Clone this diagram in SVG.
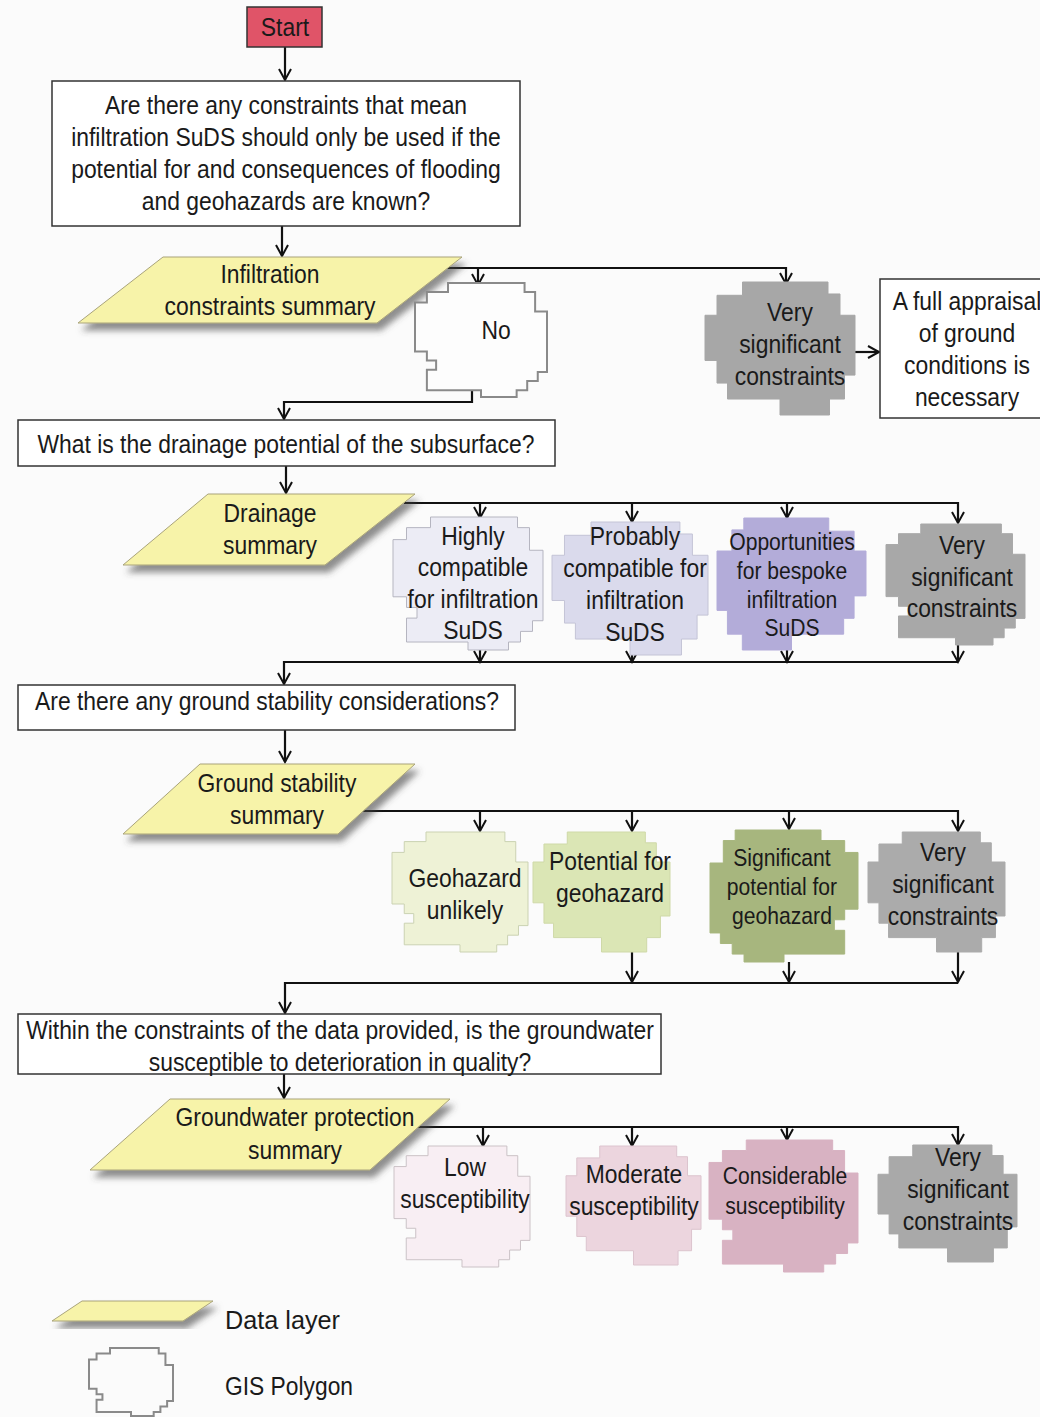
<svg xmlns="http://www.w3.org/2000/svg" xmlns:xlink="http://www.w3.org/1999/xlink" width="1040" height="1417" viewBox="0 0 1040 1417">
<style>
.t{font-family:"Liberation Sans Narrow","Arial Narrow","Liberation Sans",sans-serif;font-size:26px;fill:#1a1a1a;text-anchor:middle}
.s{font-size:24px}
.lg{font-family:"Liberation Sans",Arial,sans-serif;font-size:25px;fill:#1a1a1a;text-anchor:start}
.box{fill:#fff;stroke:#333;stroke-width:1.5}
.para{fill:#f7f3a9;stroke:#a9a37a;stroke-width:1;filter:url(#sh)}
.ln{fill:none;stroke:#111;stroke-width:2.2}
.a{marker-end:url(#arr)}
.pl{stroke-width:2}
</style>
<defs>
<filter id="sh" x="-20%" y="-20%" width="140%" height="160%">
<feDropShadow dx="4" dy="7" stdDeviation="3" flood-color="#444" flood-opacity="0.6"/>
</filter>
<marker id="arr" markerUnits="userSpaceOnUse" markerWidth="16" markerHeight="16" refX="12" refY="7" orient="auto" viewBox="0 0 16 16">
<path d="M1,1 L12,7 L1,13" fill="none" stroke="#111" stroke-width="2"/>
</marker>
<path id="shA" vector-effect="non-scaling-stroke" d="M25,0 H83 V8 H91 V25 H100 V78 H93 V86 H85 V94 H77 V100 H50 V94 H9 V76 H16 V68 H9 V60 H0 V17 H9 V8 H25 Z"/>
<path id="shB" vector-effect="non-scaling-stroke" d="M25,0 H82 V9 H90 V25 H100 V70 H93 V88 H83 V100 H50 V88 H15 V76 H8 V59 H0 V25 H8 V10 H25 Z"/>
</defs>
<rect x="0" y="0" width="1040" height="1417" fill="#fbfbfb"/>

<g id="connectors">
<path class="ln a" d="M285,47 V80"/>
<path class="ln a" d="M282,226 V256"/>
<path class="ln a" d="M445,268 H786 V284"/>
<path class="ln a" d="M478,268 V285"/>
<path class="ln a" d="M855,352 H879"/>
<path class="ln a" d="M472,390 V402 H284 V419"/>
<path class="ln a" d="M286,466 V493"/>
<path class="ln a" d="M404,503 H958 V523"/>
<path class="ln a" d="M480,503 V518"/>
<path class="ln a" d="M632,503 V522"/>
<path class="ln a" d="M787,503 V518"/>
<path class="ln a" d="M480,650 V662"/>
<path class="ln a" d="M632,655 V662"/>
<path class="ln a" d="M787,650 V662"/>
<path class="ln a" d="M958,645 V662"/>
<path class="ln a" d="M958,662 H284 V684"/>
<path class="ln a" d="M285,730 V762"/>
<path class="ln a" d="M360,811 H958 V831"/>
<path class="ln a" d="M480,811 V831"/>
<path class="ln a" d="M632,811 V831"/>
<path class="ln a" d="M789,811 V829"/>
<path class="ln a" d="M632,952 V982"/>
<path class="ln a" d="M789,962 V982"/>
<path class="ln a" d="M958,952 V982"/>
<path class="ln a" d="M958,983 H285 V1013"/>
<path class="ln a" d="M284,1074 V1098"/>
<path class="ln a" d="M410,1127 H958 V1145"/>
<path class="ln a" d="M483,1127 V1146"/>
<path class="ln a" d="M632,1127 V1146"/>
<path class="ln a" d="M787,1127 V1140"/>
</g>

<g id="start">
<rect x="247" y="7" width="75" height="40" fill="#e05468" stroke="#333" stroke-width="1.5"/>
<g transform="matrix(0.88 0 0 1 34.2 0)"><text class="t" x="285" y="36">Start</text></g>
</g>

<g id="q1">
<rect class="box" x="52" y="81" width="468" height="145"/>
<g transform="matrix(0.88 0 0 1 34.32 0)">
<text class="t" x="286" y="114">Are there any constraints that mean</text>
<text class="t" x="286" y="146">infiltration SuDS should only be used if the</text>
<text class="t" x="286" y="178">potential for and consequences of flooding</text>
<text class="t" x="286" y="210">and geohazards are known?</text>
</g>
</g>

<g id="d1">
<polygon class="para" points="163,257 462,257 377,323 78,323"/>
<g transform="matrix(0.88 0 0 1 32.4 0)">
<text class="t" x="270" y="283">Infiltration</text>
<text class="t" x="270" y="315">constraints summary</text>
</g>
</g>

<g id="no">
<use xlink:href="#shA" class="pl" transform="translate(415,283) scale(1.32,1.14)" fill="#fdfdfd" stroke="#8a8a8a"/>
<g transform="matrix(0.88 0 0 1 59.52 0)"><text class="t" x="496" y="339">No</text></g>
</g>

<g id="vsc1">
<use xlink:href="#shB" transform="translate(705,282) scale(1.5,1.33)" fill="#a7a7a7" stroke="#a7a7a7"/>
<g transform="matrix(0.88 0 0 1 94.8 0)">
<text class="t" x="790" y="321">Very</text>
<text class="t" x="790" y="353">significant</text>
<text class="t" x="790" y="385">constraints</text>
</g>
</g>

<g id="appraisal">
<rect class="box" x="880" y="279" width="175" height="139"/>
<g transform="matrix(0.88 0 0 1 116.04 0)">
<text class="t" x="967" y="310">A full appraisal</text>
<text class="t" x="967" y="342">of ground</text>
<text class="t" x="967" y="374">conditions is</text>
<text class="t" x="967" y="406">necessary</text>
</g>
</g>

<g id="q2">
<rect class="box" x="18" y="420" width="537" height="46"/>
<g transform="matrix(0.88 0 0 1 34.32 0)"><text class="t" x="286" y="453">What is the drainage potential of the subsurface?</text></g>
</g>

<g id="d2">
<polygon class="para" points="208,494 415,494 325,565 123,565"/>
<g transform="matrix(0.88 0 0 1 32.4 0)">
<text class="t" x="270" y="522">Drainage</text>
<text class="t" x="270" y="554">summary</text>
</g>
</g>

<g id="highly">
<use xlink:href="#shA" transform="translate(393,517) scale(1.5,1.33)" fill="#ececf5" stroke="#b5b5c0"/>
<g transform="matrix(0.88 0 0 1 56.76 0)">
<text class="t" x="473" y="545">Highly</text>
<text class="t" x="473" y="576">compatible</text>
<text class="t" x="473" y="608">for infiltration</text>
<text class="t" x="473" y="639">SuDS</text>
</g>
</g>

<g id="probably">
<use xlink:href="#shB" transform="translate(552,522) scale(1.56,1.33)" fill="#dadaec" stroke="#c4c4d6"/>
<g transform="matrix(0.88 0 0 1 76.2 0)">
<text class="t" x="635" y="545">Probably</text>
<text class="t" x="635" y="577">compatible for</text>
<text class="t" x="635" y="609">infiltration</text>
<text class="t" x="635" y="641">SuDS</text>
</g>
</g>

<g id="opportunities">
<use xlink:href="#shB" transform="translate(866,518) scale(-1.49,1.32)" fill="#b3acd9" stroke="#b3acd9"/>
<g transform="matrix(0.88 0 0 1 95.04 0)">
<text class="t s" x="792" y="550">Opportunities</text>
<text class="t s" x="792" y="579">for bespoke</text>
<text class="t s" x="792" y="608">infiltration</text>
<text class="t s" x="792" y="636">SuDS</text>
</g>
</g>

<g id="vsc2">
<use xlink:href="#shA" transform="translate(886,524) scale(1.39,1.21)" fill="#a8a8a8" stroke="#a8a8a8"/>
<g transform="matrix(0.88 0 0 1 115.44 0)">
<text class="t" x="962" y="554">Very</text>
<text class="t" x="962" y="586">significant</text>
<text class="t" x="962" y="617">constraints</text>
</g>
</g>

<g id="q3">
<rect class="box" x="18" y="685" width="497" height="45"/>
<g transform="matrix(0.88 0 0 1 32.04 0)"><text class="t" x="267" y="710">Are there any ground stability considerations?</text></g>
</g>

<g id="d3">
<polygon class="para" points="200,764 415,764 338,834 123,834"/>
<g transform="matrix(0.88 0 0 1 33.24 0)">
<text class="t" x="277" y="792">Ground stability</text>
<text class="t" x="277" y="824">summary</text>
</g>
</g>

<g id="geo-unlikely">
<use xlink:href="#shA" transform="translate(392,832) scale(1.36,1.2)" fill="#eef2d6" stroke="#cbd2b2"/>
<g transform="matrix(0.88 0 0 1 55.8 0)">
<text class="t" x="465" y="887">Geohazard</text>
<text class="t" x="465" y="919">unlikely</text>
</g>
</g>

<g id="geo-potential">
<use xlink:href="#shB" transform="translate(533,832) scale(1.37,1.2)" fill="#dbe6b5" stroke="#cfd9a8"/>
<g transform="matrix(0.88 0 0 1 73.2 0)">
<text class="t" x="610" y="870">Potential for</text>
<text class="t" x="610" y="902">geohazard</text>
</g>
</g>

<g id="geo-significant">
<use xlink:href="#shA" transform="translate(858,830) scale(-1.48,1.32)" fill="#a7b67e" stroke="#a7b67e"/>
<g transform="matrix(0.88 0 0 1 93.84 0)">
<text class="t s" x="782" y="866">Significant</text>
<text class="t s" x="782" y="895">potential for</text>
<text class="t s" x="782" y="924">geohazard</text>
</g>
</g>

<g id="vsc3">
<use xlink:href="#shB" transform="translate(868,832) scale(1.37,1.2)" fill="#ababab" stroke="#ababab"/>
<g transform="matrix(0.88 0 0 1 113.16 0)">
<text class="t" x="943" y="861">Very</text>
<text class="t" x="943" y="893">significant</text>
<text class="t" x="943" y="925">constraints</text>
</g>
</g>

<g id="q4">
<rect class="box" x="18" y="1014" width="643" height="60"/>
<g transform="matrix(0.88 0 0 1 40.8 0)">
<text class="t" x="340" y="1039">Within the constraints of the data provided, is the groundwater</text>
<text class="t" x="340" y="1071">susceptible to deterioration in quality?</text>
</g>
</g>

<g id="d4">
<polygon class="para" points="170,1099 450,1099 370,1170 90,1170"/>
<g transform="matrix(0.88 0 0 1 35.4 0)">
<text class="t" x="295" y="1126">Groundwater protection</text>
<text class="t" x="295" y="1159">summary</text>
</g>
</g>

<g id="low">
<use xlink:href="#shA" transform="translate(394,1146) scale(1.36,1.21)" fill="#f8eef3" stroke="#cbc2c6"/>
<g transform="matrix(0.88 0 0 1 55.8 0)">
<text class="t" x="465" y="1176">Low</text>
<text class="t" x="465" y="1208">susceptibility</text>
</g>
</g>

<g id="moderate">
<use xlink:href="#shB" transform="translate(566,1146) scale(1.35,1.19)" fill="#ecd5de" stroke="#dcc4ce"/>
<g transform="matrix(0.88 0 0 1 76.08 0)">
<text class="t" x="634" y="1183">Moderate</text>
<text class="t" x="634" y="1215">susceptibility</text>
</g>
</g>

<g id="considerable">
<use xlink:href="#shA" transform="translate(709,1140) scale(1.49,1.32)" fill="#d8b2c2" stroke="#d8b2c2"/>
<g transform="matrix(0.88 0 0 1 94.2 0)">
<text class="t s" x="785" y="1184">Considerable</text>
<text class="t s" x="785" y="1214">susceptibility</text>
</g>
</g>

<g id="vsc4">
<use xlink:href="#shB" transform="translate(878,1145) scale(1.39,1.17)" fill="#a9a9a9" stroke="#a9a9a9"/>
<g transform="matrix(0.88 0 0 1 114.96 0)">
<text class="t" x="958" y="1166">Very</text>
<text class="t" x="958" y="1198">significant</text>
<text class="t" x="958" y="1230">constraints</text>
</g>
</g>

<g id="legend-data">
<polygon class="para" points="82,1301 213,1301 183,1321 52,1321"/>
<text class="lg" x="225" y="1329" textLength="115" lengthAdjust="spacingAndGlyphs">Data layer</text>
</g>

<g id="legend-gis">
<use xlink:href="#shA" class="pl" transform="translate(89,1348) scale(0.84,0.68)" fill="none" stroke="#8a8a8a"/>
<text class="lg" x="225" y="1395" textLength="128" lengthAdjust="spacingAndGlyphs">GIS Polygon</text>
</g>
</svg>
